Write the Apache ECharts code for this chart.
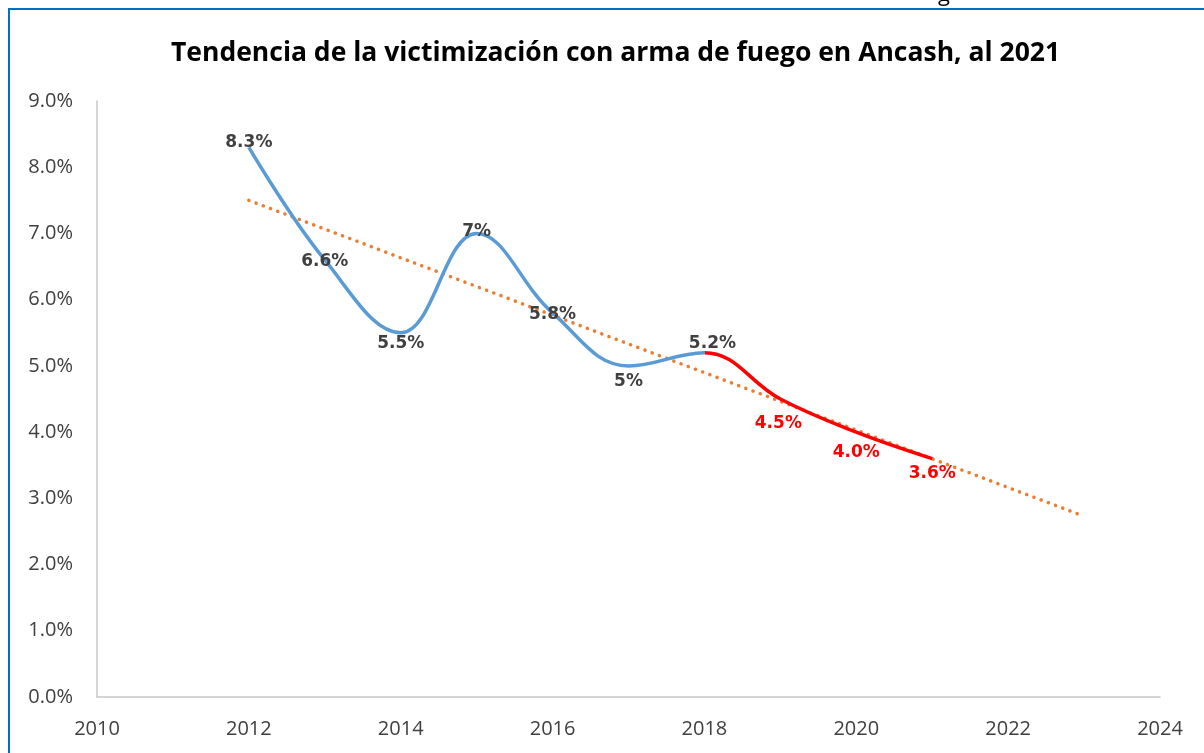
<!DOCTYPE html>
<html>
<head>
<meta charset="utf-8">
<title>Victimización con arma de fuego - Ancash</title>
<script src="https://cdn.jsdelivr.net/npm/echarts@6/dist/echarts.min.js"></script>
<style>
    html, body { margin: 0; padding: 0; background: #fff; }
    #main { width: 1204px; height: 753px; }
</style>
</head>
<body>
<div id="main"></div>
<script>
// datos (2012-2018 observado, 2018-2021 en rojo)
var years = [2012, 2013, 2014, 2015, 2016, 2017, 2018, 2019, 2020, 2021];
var values = [8.3, 6.6, 5.5, 7, 5.8, 5, 5.2, 4.5, 4.0, 3.6];
var labels = ['8.3%', '6.6%', '5.5%', '7%', '5.8%', '5%', '5.2%', '4.5%', '4.0%', '3.6%'];
var redFrom = 2018;

// linea de tendencia (extremos)
var trendYears = [2012, 2023];
var trendValues = [7.5, 2.73];

// donde va cada etiqueta
var labelPos = [
    {position: 'top', distance: -4},
    {position: 'inside', offset: [0, 2]},
    {position: 'bottom', distance: 2},
    {position: 'top', distance: -7},
    {position: 'inside', offset: [0, 2]},
    {position: 'bottom', distance: 7},
    {position: 'top', distance: 1, offset: [8, 0]},
    {position: 'bottom', distance: 16, offset: [-2, 0]},
    {position: 'bottom', distance: 12},
    {position: 'bottom', distance: 6}
];

var lblFont = {fontFamily: 'DejaVu Sans', fontWeight: 'bold', fontSize: 17};

var lineData = years.map(function (y, i) {
    return {
        value: [y, values[i]],
        label: Object.assign({
            formatter: labels[i],
            color: y > redFrom ? '#FF0000' : '#404040'
        }, labelPos[i])
    };
});
var trendData = trendYears.map(function (y, i) { return [y, trendValues[i]]; });

// corte azul/rojo dentro del trazo
var cut = (redFrom - years[0]) / (years[years.length - 1] - years[0]);
var lineColor = new echarts.graphic.LinearGradient(0, 0, 1, 0, [
    {offset: 0, color: '#5B9BD5'},
    {offset: cut, color: '#5B9BD5'},
    {offset: cut, color: '#FF0000'},
    {offset: 1, color: '#FF0000'}
]);

var myChart = echarts.init(document.getElementById('main'));

var option = {
    animation: false,
    title: {
        text: 'Tendencia de la victimización con arma de fuego en Ancash, al 2021',
        left: 166,
        top: 35,
        textStyle: {fontFamily: 'Open Sans', fontWeight: 'bold', fontSize: 26.5, color: '#000'}
    },
    graphic: [
        {
            type: 'rect',
            shape: {x: 9, y: 9, width: 1400, height: 900},
            style: {fill: 'none', stroke: '#0070C0', lineWidth: 2}
        },
        {
            type: 'text',
            left: 938, top: -16,
            style: {text: 'g', fontFamily: 'Open Sans', fontSize: 22, fill: '#000'}
        }
    ],
    grid: {left: 97, right: 44, top: 101, bottom: 56},
    xAxis: {
        type: 'value',
        min: 2010,
        max: 2024,
        interval: 2,
        axisLine: {lineStyle: {color: '#c8c8c8', width: 1.5}},
        axisTick: {show: false},
        splitLine: {show: false},
        axisLabel: {
            fontFamily: 'Open Sans', fontSize: 20, color: '#404040', margin: 22,
            formatter: function (v) { return String(v); }
        }
    },
    yAxis: {
        type: 'value',
        min: 0,
        max: 9,
        interval: 1,
        axisLine: {show: true, lineStyle: {color: '#c8c8c8', width: 1.5}},
        axisTick: {show: false},
        splitLine: {show: false},
        axisLabel: {
            fontFamily: 'Open Sans', fontSize: 20, color: '#404040', margin: 24,
            formatter: function (v) { return v.toFixed(1) + '%'; }
        }
    },
    series: [
        {
            name: 'Tendencia',
            type: 'line',
            data: trendData,
            symbol: 'none',
            z: 1,
            lineStyle: {color: '#ED7D31', width: 3.5, type: [0.1, 7.6], cap: 'round'}
        },
        {
            name: 'Victimización',
            type: 'line',
            data: lineData,
            smooth: 0.4,
            symbol: 'circle',
            symbolSize: 0,
            z: 3,
            itemStyle: {color: '#5B9BD5'},
            lineStyle: {width: 3.5, color: lineColor},
            label: Object.assign({show: true}, lblFont)
        }
    ]
};

myChart.setOption(option);
</script>
</body>
</html>
